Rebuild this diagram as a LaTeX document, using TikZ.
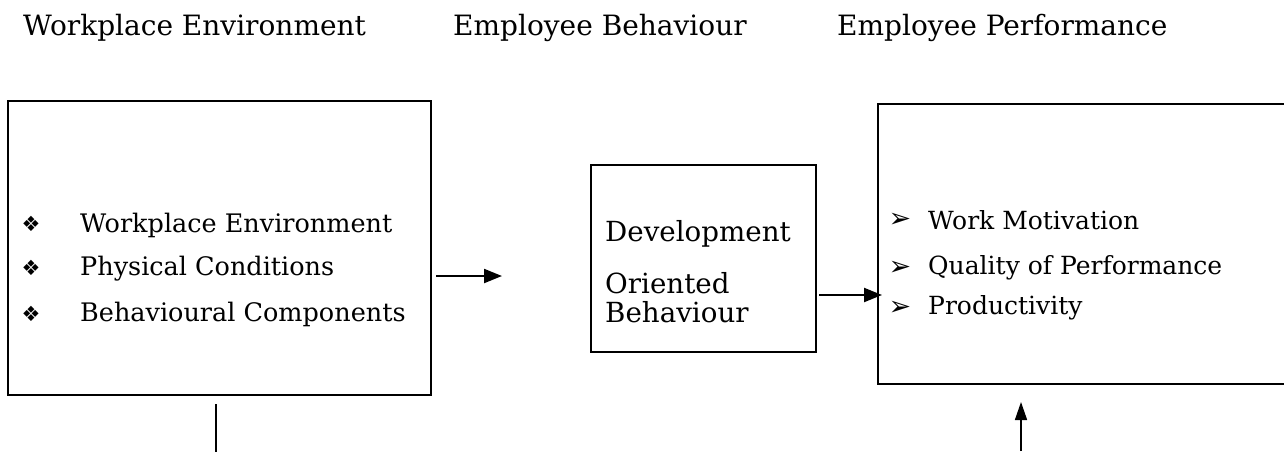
\documentclass[tikz,border=0pt]{standalone}
\usepackage{fontspec}
\setmainfont{DejaVu Serif}
\newfontfamily\symfont{DejaVu Sans}
\usetikzlibrary{arrows.meta}
\tikzset{
  title/.style={anchor=west, inner sep=0pt, font=\fontsize{28}{32}\selectfont},
  item/.style={anchor=west, inner sep=0pt, font=\fontsize{25.5}{30}\selectfont},
  ritem/.style={anchor=west, inner sep=0pt, font=\fontsize{25}{30}\selectfont},
  mitem/.style={anchor=west, inner sep=0pt, font=\fontsize{27.7}{30}\selectfont},
  bul/.style={anchor=center, inner sep=0pt, font=\symfont\fontsize{21}{24}\selectfont},
  rbul/.style={anchor=center, inner sep=0pt, font=\symfont\fontsize{27}{30}\selectfont},
  box/.style={draw, line width=2.2pt, inner sep=0pt},
  conn/.style={line width=2.2pt, -{Triangle[length=18pt,width=14pt]}},
  thinconn/.style={line width=1.6pt, -{Triangle[length=18pt,width=12pt]}},
}
\begin{document}
\begin{tikzpicture}[x=1pt,y=-1pt]
\useasboundingbox (0,0) rectangle (1284,456);
% titles
\node[title] (t1) at (23,28) {Workplace Environment};
\node[title] (t2) at (453,28) {Employee Behaviour};
\node[title] (t3) at (837,28) {Employee Performance};
% left box
\node[box, minimum width=423pt, minimum height=294pt] (lbox) at (219.5,248) {};
\node[bul] (lb1) at (31,224) {❖};
\node[bul] (lb2) at (31,268) {❖};
\node[bul] (lb3) at (31,314) {❖};
\node[item] (li1) at (80,225) {Workplace Environment};
\node[item] (li2) at (80,269) {Physical Conditions};
\node[item] (li3) at (80,314) {Behavioural Components};
% middle box
\node[box, minimum width=225pt, minimum height=187pt] (mbox) at (703.5,258.5) {};
\node[mitem] (m1) at (605,234) {Development};
\node[mitem] (m2) at (605,283) {Oriented};
\node[mitem] (m3) at (605,312) {Behaviour};
% right box
\node[box, minimum width=420pt, minimum height=280pt, anchor=north west] (rbox) at (877,103) {};
\node[rbul] (rb1) at (900,220) {➢};
\node[rbul] (rb2) at (900,268) {➢};
\node[rbul] (rb3) at (900,308) {➢};
\node[ritem] (ri1) at (928,220) {Work Motivation};
\node[ritem] (ri2) at (928,268) {Quality of Performance};
\node[ritem] (ri3) at (928,308) {Productivity};
% connectors
\coordinate (a1s) at (436,276);
\coordinate (a1e) at (502,276);
\draw[conn] (a1s) -- (a1e);
\coordinate (a2s) at (819,295);
\coordinate (a2e) at (882,295);
\draw[conn] (a2s) -- (a2e);
\coordinate (v1s) at (216,404);
\coordinate (v1e) at (216,452);
\draw[line width=1.6pt] (v1s) -- (v1e);
\coordinate (v2s) at (1021,451);
\coordinate (v2e) at (1021,402);
\draw[thinconn] (v2s) -- (v2e);
\end{tikzpicture}
\end{document}
